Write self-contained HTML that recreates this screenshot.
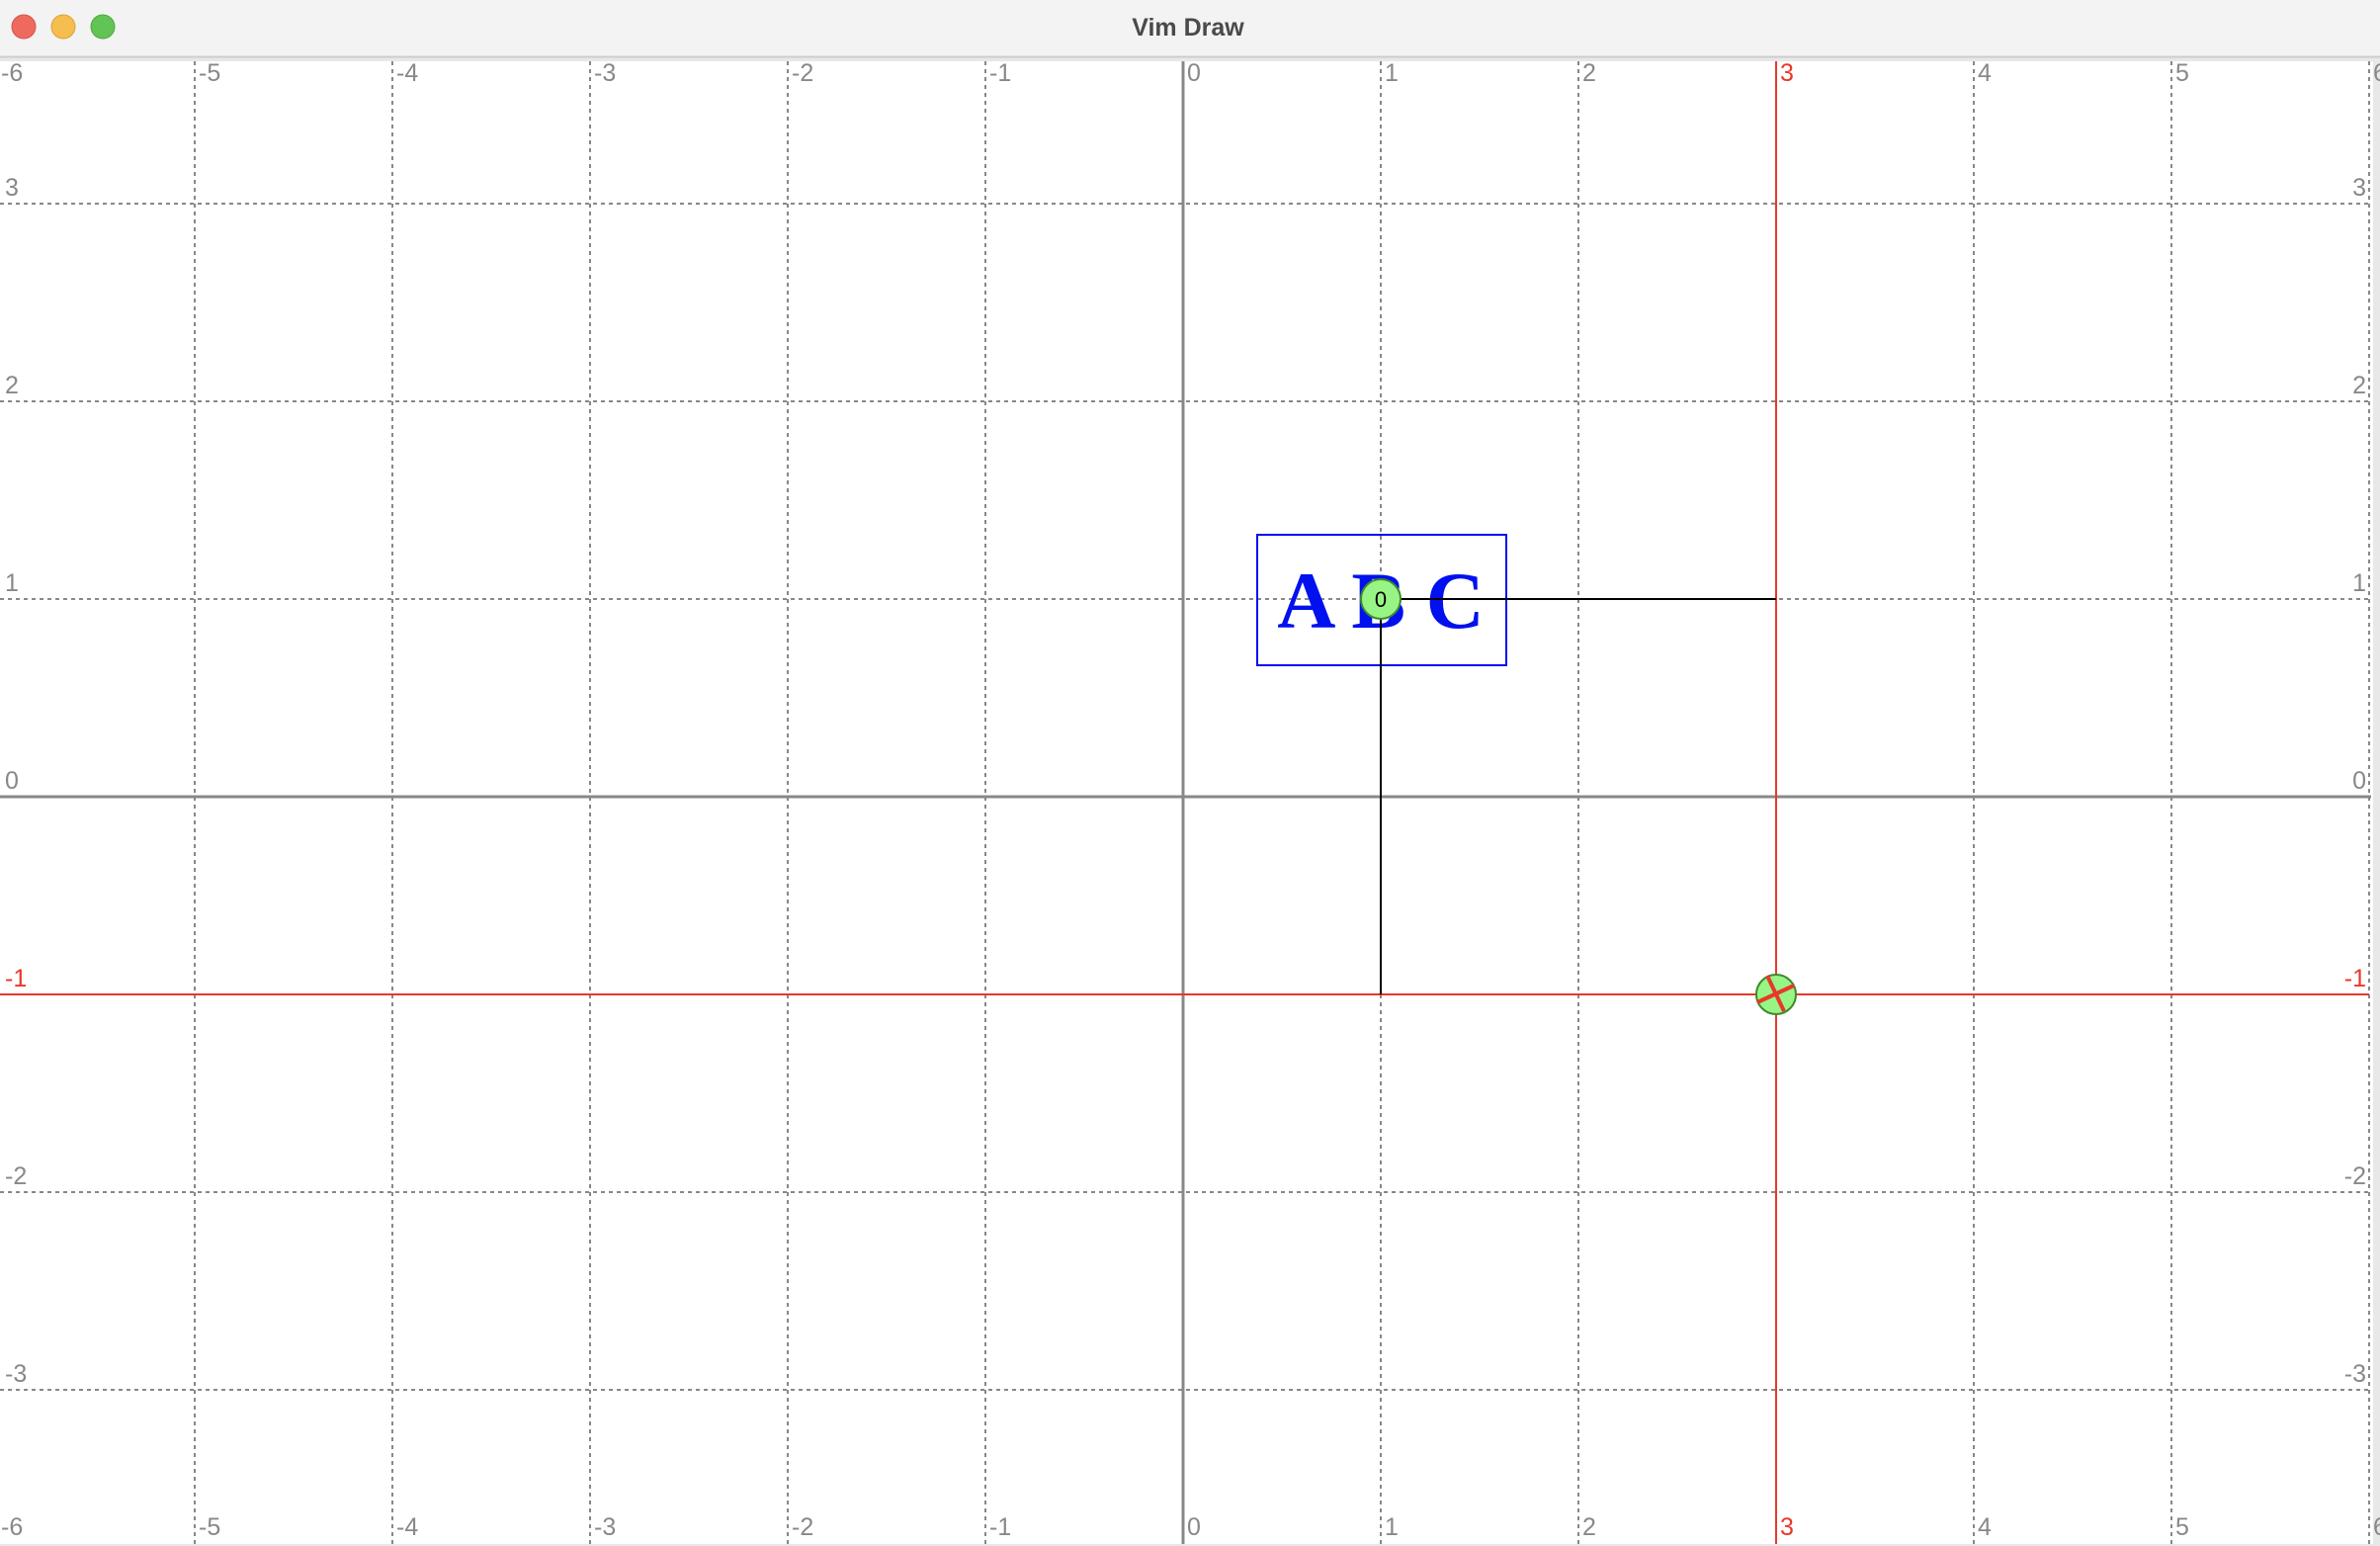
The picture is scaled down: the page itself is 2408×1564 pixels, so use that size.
<!DOCTYPE html>
<html><head><meta charset="utf-8"><style>
html,body{margin:0;padding:0;width:2408px;height:1564px;overflow:hidden;background:#e8e8e8;font-family:"Liberation Sans",sans-serif}
</style></head><body>
<svg id="chart" width="2408" height="1564" viewBox="0 0 2408 1564">
<rect x="0" y="0" width="2408" height="58" fill="#f3f3f3"/>
<line x1="0" y1="57.5" x2="2408" y2="57.5" stroke="#cdcdcd" stroke-width="2"/>
<circle cx="24" cy="27" r="12" fill="#ee6a5f" stroke="#d5534a"/>
<circle cx="64" cy="27" r="12" fill="#f5be4f" stroke="#d9a33c"/>
<circle cx="104" cy="27" r="12" fill="#61c454" stroke="#4ea83f"/>
<text x="1202" y="36" text-anchor="middle" font-size="25" font-weight="bold" fill="#4a4a4a">Vim Draw</text>
<rect x="0" y="62" width="2401" height="1500" fill="#fff"/>
<g id="plot"></g>
</svg>
<script>
const xTicks=[-6,-5,-4,-3,-2,-1,0,1,2,3,4,5,6];
const yTicks=[3,2,1,0,-1,-2,-3];
const redX=[3];
const redY=[-1];
const pathX=[3,1,1];
const pathY=[1,1,-1];
const pointX=[1,3];
const pointY=[1,-1];
const boxLabel="A B C";
const boxCenter=[1,1];
const X0=1197,Y0=806,S=200,TOP=62,BOT=1562,LEFT=0,RIGHT=2399;
const sx=v=>X0+v*S, sy=v=>Y0-v*S;
const NS="http://www.w3.org/2000/svg";
const g=document.getElementById('plot');
function mk(t,a){const e=document.createElementNS(NS,t);for(const k in a)e.setAttribute(k,a[k]);g.appendChild(e);return e;}
xTicks.forEach(v=>{if(v===0)return;
 const l=mk('line',{x1:sx(v),y1:TOP,x2:sx(v),y2:BOT,stroke:'#888','stroke-width':2,'stroke-dasharray':'4 4'});
 
 });
yTicks.forEach(v=>{if(v===0)return;
 const l=mk('line',{x1:LEFT,y1:sy(v),x2:RIGHT,y2:sy(v),stroke:'#888','stroke-width':2,'stroke-dasharray':'4 4'});
 
 });
const ax=mk('line',{x1:sx(0),y1:TOP,x2:sx(0),y2:BOT,stroke:'#888','stroke-width':3});


const ay=mk('line',{x1:LEFT,y1:sy(0),x2:RIGHT,y2:sy(0),stroke:'#888','stroke-width':3});


redX.forEach(v=>{const l=mk('line',{x1:sx(v),y1:TOP,x2:sx(v),y2:BOT,stroke:'#e8382a','stroke-width':2});
 
 });
redY.forEach(v=>{const l=mk('line',{x1:LEFT,y1:sy(v),x2:RIGHT-2,y2:sy(v),stroke:'#e8382a','stroke-width':2});
 
 });
xTicks.forEach(v=>{const c=redX.includes(v)?'#e8382a':'#888';
 [[TOP+20,'top'],[BOT-9,'bottom']].forEach(([y,p])=>{
 const t=mk('text',{x:sx(v)+4,y:y,'font-size':25,fill:c});t.textContent=v;
 
 });});
yTicks.forEach(v=>{const c=redY.includes(v)?'#e8382a':'#888';
 const t=mk('text',{x:5,y:sy(v)-8,'font-size':25,fill:c});t.textContent=v;
 
 
 const r=mk('text',{x:2394,y:sy(v)-8,'font-size':25,fill:c,'text-anchor':'end'});r.textContent=v;
 
 });
// text box
const bx=sx(boxCenter[0]),by=sy(boxCenter[1]);
const box=mk('rect',{x:bx-125,y:by-65,width:252,height:132,fill:'none',stroke:'#0010ee','stroke-width':2});


const bt=mk('text',{x:bx,y:by+29,'font-size':82,'font-weight':'bold','font-family':'Liberation Serif, serif',fill:'#0010ee','text-anchor':'middle'});
bt.textContent=boxLabel;


// path
const pl=mk('polyline',{points:pathX.map((x,i)=>sx(x)+','+sy(pathY[i])).join(' '),fill:'none',stroke:'#000','stroke-width':2});


// point 0
const e0=mk('circle',{cx:sx(pointX[0]),cy:sy(pointY[0]),r:20,fill:'#98f585',stroke:'#3d8a2d','stroke-width':2});


const t0=mk('text',{x:sx(pointX[0]),y:sy(pointY[0])+8,'font-size':22,'text-anchor':'middle',fill:'#000'});t0.textContent='0';


// cursor point
const cx=sx(pointX[1]),cy=sy(pointY[1]);
const e1=mk('circle',{cx:cx,cy:cy,r:20,fill:'#98f585',stroke:'#3d8a2d','stroke-width':2});


const k1=mk('line',{x1:cx-9,y1:cy-19,x2:cx+8,y2:cy+17,stroke:'#e8382a','stroke-width':4});


const k2=mk('line',{x1:cx-19,y1:cy+8,x2:cx+18,y2:cy-9,stroke:'#e8382a','stroke-width':4});


</script>
</body></html>
